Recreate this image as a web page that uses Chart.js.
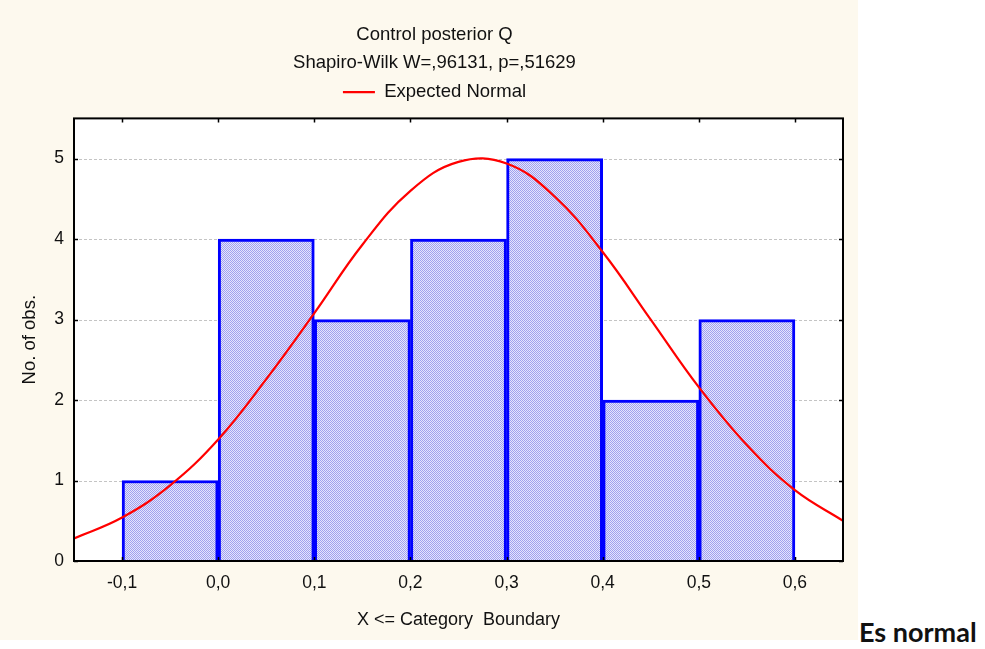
<!DOCTYPE html>
<html>
<head>
<meta charset="utf-8">
<script src="https://cdn.jsdelivr.net/npm/chart.js@4.4.1/dist/chart.umd.min.js"></script>
<style>
  html, body { margin: 0; padding: 0; background: #ffffff; }
  #wrap { position: absolute; left: 0; top: 0; width: 858px; height: 640px; background: #fdf9ee; }
  #note { position: absolute; left: 859px; top: 615px; font: bold 27px Lato, "Open Sans", sans-serif; color: #111; white-space: nowrap; }
</style>
</head>
<body>
<div id="wrap"><canvas id="hist" width="858" height="640"></canvas></div>
<div id="note">Es normal</div>
<script>
// ── Histogram of Control posterior Q with expected normal curve ──

// bins (centre of each 0.1 wide class) and observed counts
const binCenters = [-0.05, 0.05, 0.15, 0.25, 0.35, 0.45, 0.55];
const binCounts = [1, 4, 3, 4, 5, 2, 3];

// expected normal curve
const curveX = [-0.15, -0.10, -0.05, 0.00, 0.05, 0.10, 0.15, 0.20, 0.25, 0.30, 0.35, 0.40, 0.45, 0.50, 0.55, 0.60, 0.65];
const curveY = [0.28, 0.54, 0.94, 1.51, 2.26, 3.08, 3.93, 4.60, 4.96, 4.94, 4.53, 3.84, 3.00, 2.16, 1.44, 0.88, 0.50];

// tick labels
const xTicks = [-0.1, 0.0, 0.1, 0.2, 0.3, 0.4, 0.5, 0.6];
const yTicks = [0, 1, 2, 3, 4, 5];

const FONT = '"Liberation Sans", Arial, sans-serif';

// dithered light blue fill like the original
function makePattern() {
  const c = document.createElement('canvas');
  c.width = 2; c.height = 2;
  const g = c.getContext('2d');
  g.fillStyle = '#e4e4fd'; g.fillRect(0, 0, 2, 2);
  g.fillStyle = '#a0a0ee'; g.fillRect(0, 0, 1, 1); g.fillRect(1, 1, 1, 1);
  return g.createPattern(c, 'repeat');
}

const plotFrame = {
  id: 'plotFrame',
  beforeDatasetsDraw(chart) {
    const a = chart.chartArea, ctx = chart.ctx;
    ctx.save();
    ctx.fillStyle = '#ffffff';
    ctx.fillRect(a.left, a.top, a.right - a.left, a.bottom - a.top);
    // dashed y grid
    ctx.strokeStyle = '#c4c4c4';
    ctx.lineWidth = 1;
    ctx.setLineDash([3, 2]);
    const ys = chart.scales.y;
    yTicks.forEach(v => {
      if (v === 0) return;
      const y = Math.round(ys.getPixelForValue(v)) + 0.5;
      ctx.beginPath(); ctx.moveTo(a.left, y); ctx.lineTo(a.right, y); ctx.stroke();
    });
    ctx.restore();
  },
  afterDatasetsDraw(chart) {
    const a = chart.chartArea, ctx = chart.ctx;
    const xs = chart.scales.x, ys = chart.scales.y;
    ctx.save();
    ctx.strokeStyle = '#000';
    ctx.lineWidth = 2;
    ctx.strokeRect(a.left, a.top, a.right - a.left, a.bottom - a.top);
    ctx.lineWidth = 1.5;
    ctx.beginPath();
    xTicks.forEach(v => {
      const x = Math.round(xs.getPixelForValue(v)) + 0.5;
      ctx.moveTo(x, a.top); ctx.lineTo(x, a.top + 4);
      ctx.moveTo(x, a.bottom); ctx.lineTo(x, a.bottom - 4);
    });
    yTicks.forEach(v => {
      const y = Math.round(ys.getPixelForValue(v)) + 0.5;
      ctx.moveTo(a.left, y); ctx.lineTo(a.left + 4, y);
      ctx.moveTo(a.right, y); ctx.lineTo(a.right - 4, y);
    });
    ctx.stroke();
    ctx.restore();
  }
};

const fmt = v => (Math.abs(v) < 1e-9 ? 0 : v).toFixed(1).replace('.', ',');

new Chart(document.getElementById('hist'), {
  data: {
    datasets: [
      {
        type: 'line',
        label: 'Expected Normal',
        data: curveX.map((x, i) => ({ x, y: curveY[i] })),
        borderColor: '#ff0000',
        backgroundColor: '#ff0000',
        borderWidth: 2.2,
        pointRadius: 0,
        tension: 0.4,
        fill: false
      },
      {
        type: 'bar',
        label: 'obs',
        data: binCenters.map((x, i) => ({ x, y: binCounts[i] })),
        backgroundColor: makePattern(),
        borderColor: '#0000ff',
        borderWidth: 3,
        barPercentage: 1,
        categoryPercentage: 1
      }
    ]
  },
  options: {
    responsive: false,
    animation: false,
    layout: { padding: { left: 26, right: 15, top: 0, bottom: 0 } },
    plugins: {
      title: {
        display: true, text: 'Control posterior Q', color: '#111',
        font: { family: FONT, size: 18.5, weight: 'normal' },
        padding: { top: 24, bottom: 6 }
      },
      subtitle: {
        display: true, text: 'Shapiro-Wilk W=,96131, p=,51629', color: '#111',
        font: { family: FONT, size: 18.5, weight: 'normal' },
        padding: { top: 0, bottom: -10.5 }
      },
      legend: {
        display: true,
        labels: {
          filter: item => item.datasetIndex === 0,
          usePointStyle: true, pointStyle: 'line', pointStyleWidth: 32,
          color: '#111', font: { family: FONT, size: 18.5 }, padding: 19
        }
      },
      tooltip: { enabled: false }
    },
    scales: {
      x: {
        type: 'linear', min: -0.15, max: 0.65, offset: false,
        afterBuildTicks: s => { s.ticks = xTicks.map(v => ({ value: v })); },
        afterFit: s => { s.height = 79; },
        grid: { display: false, drawTicks: false, offset: false },
        border: { display: false },
        ticks: { color: '#111', font: { family: FONT, size: 17.5 }, padding: 12, callback: v => fmt(v), maxRotation: 0, autoSkip: false },
        title: { display: true, text: 'X <= Category  Boundary', color: '#111', font: { family: FONT, size: 18 }, padding: { top: 10, bottom: 9 } }
      },
      // empty band between the legend and the plot frame
      gap: {
        type: 'linear', position: 'top', min: 0, max: 1,
        afterFit: s => { s.height = 7; },
        ticks: { display: false },
        grid: { display: false, drawTicks: false },
        border: { display: false }
      },
      y: {
        min: 0, max: 5.5,
        afterBuildTicks: s => { s.ticks = yTicks.map(v => ({ value: v })); },
        afterFit: s => { s.width = 48; },
        grid: { display: false, drawTicks: false },
        border: { display: false },
        ticks: { color: '#111', font: { family: FONT, size: 17.5 }, padding: 10 },
        title: { display: true, text: 'No. of obs.', color: '#111', font: { family: FONT, size: 18.5 }, padding: { top: -7, bottom: 0 } }
      }
    }
  },
  plugins: [plotFrame]
});
</script>
</body>
</html>
